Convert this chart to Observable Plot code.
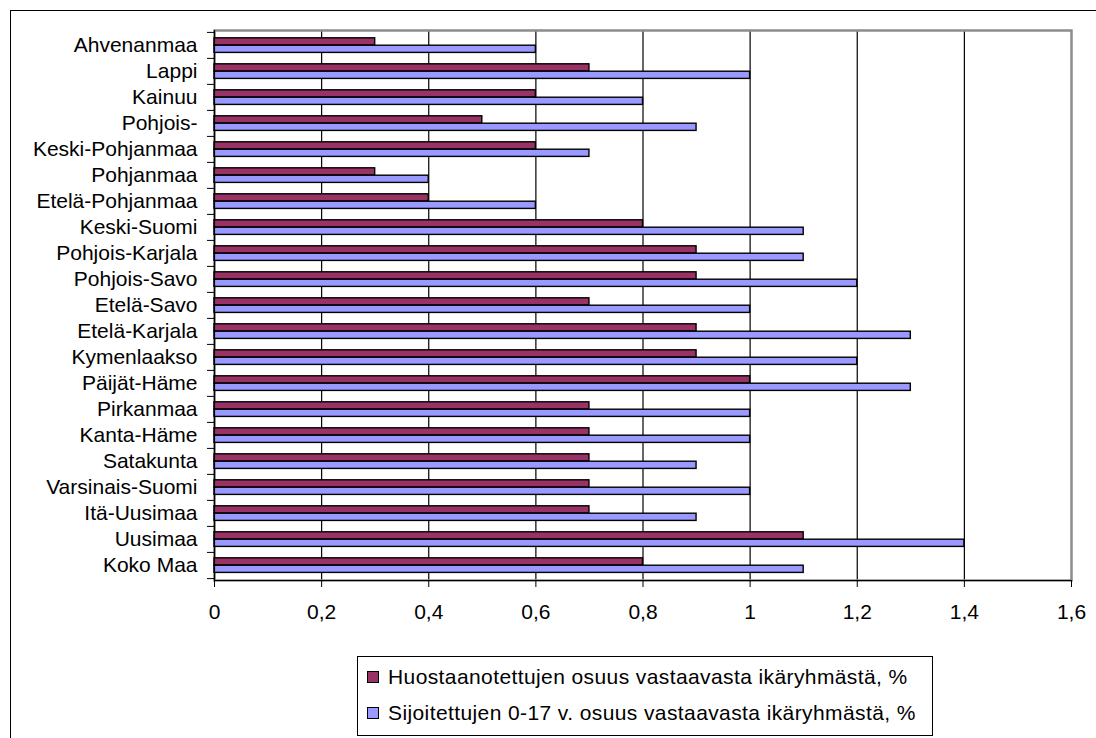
<!DOCTYPE html>
<html>
<head>
<meta charset="utf-8">
<script src="https://cdn.jsdelivr.net/npm/d3@7"></script>
<script src="https://cdn.jsdelivr.net/npm/@observablehq/plot@0.6"></script>
<style>
  body { margin: 0; background: #fff; font-family: "Liberation Sans", Arial, sans-serif; }
  #wrap { position: relative; width: 1096px; height: 738px; overflow: hidden; }
  #frame { position: absolute; left: 10px; top: 10px; width: 1200px; height: 800px; border: 1px solid #000; box-sizing: border-box; }
  #chart { position: absolute; left: 0; top: 0; }
  #legend { position: absolute; left: 357px; top: 656px; width: 576px; height: 80px; border: 1px solid #000; box-sizing: border-box; background: #fff; font-size: 21px; color: #000; }
  .item { position: absolute; left: 9px; height: 24px; line-height: 24px; white-space: nowrap; letter-spacing: 0.4px; }
  .sw { display: inline-block; width: 10px; height: 10px; border: 1px solid #000; margin-right: 9px; vertical-align: 1px; }
</style>
</head>
<body>
<div id="wrap">
  <div id="frame"></div>
  <div id="chart"></div>
  <div id="legend"></div>
</div>
<script>
const regions = ["Ahvenanmaa","Lappi","Kainuu","Pohjois-","Keski-Pohjanmaa","Pohjanmaa","Etelä-Pohjanmaa","Keski-Suomi","Pohjois-Karjala","Pohjois-Savo","Etelä-Savo","Etelä-Karjala","Kymenlaakso","Päijät-Häme","Pirkanmaa","Kanta-Häme","Satakunta","Varsinais-Suomi","Itä-Uusimaa","Uusimaa","Koko Maa"];
const huostaanotetut = [0.3,0.7,0.6,0.5,0.6,0.3,0.4,0.8,0.9,0.9,0.7,0.9,0.9,1.0,0.7,0.7,0.7,0.7,0.7,1.1,0.8];
const sijoitetut = [0.6,1.0,0.8,0.9,0.7,0.4,0.6,1.1,1.1,1.2,1.0,1.3,1.2,1.3,1.0,1.0,0.9,1.0,0.9,1.4,1.1];
const seriesNames = ["Huostaanotettujen osuus vastaavasta ikäryhmästä, %","Sijoitettujen 0-17 v. osuus vastaavasta ikäryhmästä, %"];
const seriesColors = ["#993366","#9999ff"];
const xTicks = [0,0.2,0.4,0.6,0.8,1.0,1.2,1.4,1.6];
const xTickLabels = ["0","0,2","0,4","0,6","0,8","1","1,2","1,4","1,6"];

const rows = regions.map((r,i) => ({region: r, h: huostaanotetut[i], s: sijoitetut[i]}));

const W = 1096, H = 640, mT = 30, mB = 60, mL = 214, mR = 25;
const band = (H - mT - mB) / regions.length;
const barH = 7.4;
const gapTop = 5.8;

const chart = Plot.plot({
  width: W, height: H,
  marginTop: mT, marginBottom: mB, marginLeft: mL, marginRight: mR,
  style: {fontFamily: '"Liberation Sans", Arial, sans-serif', fontSize: "21px", color: "#000", background: "transparent"},
  x: {domain: [0, 1.6], axis: null, label: null},
  y: {domain: regions, padding: 0, axis: null, label: null},
  marks: [
    Plot.ruleX(xTicks.slice(1, -1), {stroke: "#000", strokeWidth: 1.2}),
    Plot.frame({stroke: "#8c8c8c", strokeWidth: 2.5}),
    Plot.barX(rows, {y: "region", x: "h", fill: seriesColors[0], stroke: "#000", strokeWidth: 1.4,
      insetTop: gapTop, insetBottom: band - gapTop - barH}),
    Plot.barX(rows, {y: "region", x: "s", fill: seriesColors[1], stroke: "#000", strokeWidth: 1.4,
      insetTop: gapTop + barH, insetBottom: band - gapTop - 2 * barH}),
    Plot.ruleX([0], {stroke: "#000", strokeWidth: 1.2}),
    Plot.frame({anchor: "bottom", stroke: "#000", strokeWidth: 1.2}),
    Plot.axisX(xTicks, {tickSize: 7, tickPadding: 17, fontSize: 21, stroke: "#000", label: null, tickFormat: (d, i) => xTickLabels[i]}),
    Plot.axisY(regions, {tickSize: 7, tickFormat: () => "", label: null, dy: -band / 2, stroke: "#000"}),
    Plot.axisY([regions[regions.length - 1]], {tickSize: 7, tickFormat: () => "", label: null, dy: band / 2, stroke: "#000"}),
    Plot.axisY(regions, {tickSize: 0, tickPadding: 17, fontSize: 21, label: null, fill: "#000"})
  ]
});
document.getElementById("chart").appendChild(chart);

const legend = document.getElementById("legend");
seriesNames.forEach((name, i) => {
  const item = document.createElement("div");
  item.className = "item";
  item.style.top = (8 + i * 36) + "px";
  const sw = document.createElement("span");
  sw.className = "sw";
  sw.style.background = seriesColors[i];
  item.appendChild(sw);
  item.appendChild(document.createTextNode(name));
  legend.appendChild(item);
});
</script>
</body>
</html>
